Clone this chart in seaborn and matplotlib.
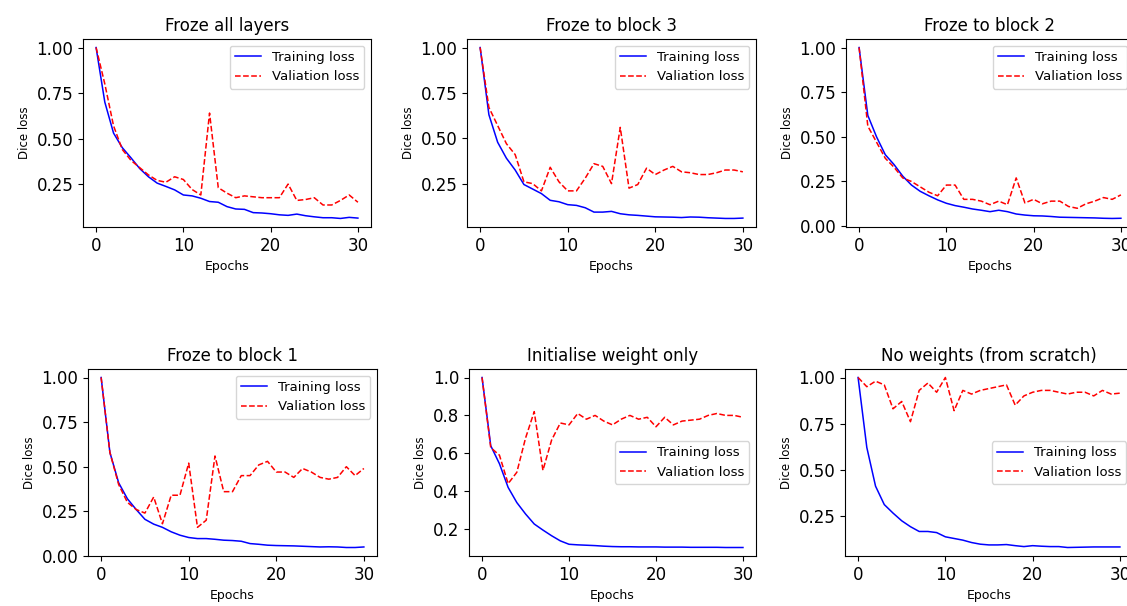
#!/usr/bin/env python3
"""Training / validation Dice loss for six transfer-learning set-ups."""

import numpy as np
import pandas as pd
import matplotlib
matplotlib.use('Agg')
import matplotlib.pyplot as plt
import seaborn as sns

epochs = list(range(31))

titles = ['Froze all layers', 'Froze to block 3', 'Froze to block 2',
          'Froze to block 1', 'Initialise weight only', 'No weights (from scratch)']

# Froze all layers
train_all = [1.0, 0.70, 0.53, 0.45, 0.394, 0.335, 0.29, 0.255, 0.237, 0.218,
             0.19, 0.185, 0.172, 0.154, 0.15, 0.126, 0.113, 0.111, 0.093, 0.091,
             0.087, 0.081, 0.078, 0.085, 0.076, 0.07, 0.065, 0.065, 0.061, 0.067, 0.063]
val_all = [1.0, 0.80, 0.57, 0.44, 0.38, 0.34, 0.30, 0.27, 0.26, 0.29,
           0.275, 0.22, 0.19, 0.64, 0.23, 0.20, 0.175, 0.185, 0.18, 0.175,
           0.175, 0.175, 0.25, 0.16, 0.165, 0.175, 0.135, 0.135, 0.16, 0.19, 0.15]

# Froze to block 3
train_b3 = [1.0, 0.63, 0.478, 0.39, 0.325, 0.245, 0.22, 0.195, 0.158, 0.15,
            0.134, 0.13, 0.117, 0.093, 0.093, 0.097, 0.084, 0.078, 0.075, 0.071,
            0.067, 0.066, 0.065, 0.063, 0.066, 0.065, 0.062, 0.06, 0.058, 0.058, 0.06]
val_b3 = [1.0, 0.67, 0.57, 0.47, 0.41, 0.26, 0.25, 0.21, 0.34, 0.26,
          0.21, 0.21, 0.28, 0.36, 0.345, 0.25, 0.56, 0.225, 0.245, 0.335,
          0.30, 0.325, 0.345, 0.315, 0.31, 0.30, 0.30, 0.31, 0.325, 0.325, 0.315]

# Froze to block 2
train_b2 = [1.0, 0.62, 0.50, 0.40, 0.345, 0.28, 0.23, 0.195, 0.17, 0.147,
            0.128, 0.115, 0.106, 0.096, 0.089, 0.081, 0.089, 0.081, 0.068, 0.062,
            0.058, 0.057, 0.054, 0.05, 0.049, 0.048, 0.047, 0.046, 0.044, 0.043, 0.044]
val_b2 = [1.0, 0.56, 0.47, 0.38, 0.33, 0.27, 0.25, 0.22, 0.19, 0.17,
          0.23, 0.23, 0.15, 0.15, 0.14, 0.12, 0.14, 0.12, 0.27, 0.13,
          0.15, 0.125, 0.14, 0.14, 0.11, 0.10, 0.125, 0.14, 0.16, 0.15, 0.175]

# Froze to block 1
train_b1 = [1.0, 0.58, 0.41, 0.32, 0.26, 0.205, 0.178, 0.16, 0.135, 0.116,
            0.103, 0.097, 0.097, 0.093, 0.088, 0.086, 0.082, 0.069, 0.065, 0.06,
            0.058, 0.057, 0.056, 0.054, 0.052, 0.05, 0.051, 0.05, 0.047, 0.047, 0.05]
val_b1 = [1.0, 0.58, 0.40, 0.30, 0.26, 0.24, 0.33, 0.18, 0.34, 0.34,
          0.52, 0.16, 0.20, 0.56, 0.36, 0.36, 0.45, 0.45, 0.51, 0.53,
          0.47, 0.47, 0.44, 0.49, 0.47, 0.44, 0.43, 0.44, 0.50, 0.45, 0.49]

# Initialise weight only
train_init = [1.0, 0.64, 0.545, 0.42, 0.34, 0.28, 0.227, 0.195, 0.165, 0.138,
              0.12, 0.117, 0.115, 0.113, 0.11, 0.108, 0.107, 0.107, 0.106, 0.106,
              0.106, 0.105, 0.105, 0.105, 0.104, 0.104, 0.104, 0.104, 0.103, 0.103, 0.103]
val_init = [1.0, 0.63, 0.59, 0.44, 0.50, 0.68, 0.82, 0.51, 0.67, 0.76,
            0.75, 0.81, 0.78, 0.80, 0.77, 0.75, 0.78, 0.80, 0.78, 0.79,
            0.74, 0.79, 0.75, 0.77, 0.775, 0.78, 0.80, 0.81, 0.80, 0.80, 0.79]

# No weights (from scratch)
train_none = [1.0, 0.62, 0.41, 0.31, 0.264, 0.222, 0.19, 0.164, 0.164, 0.158,
              0.135, 0.126, 0.117, 0.104, 0.095, 0.091, 0.091, 0.093, 0.087, 0.082,
              0.087, 0.084, 0.082, 0.082, 0.077, 0.078, 0.079, 0.08, 0.08, 0.08, 0.08]
val_none = [1.0, 0.95, 0.98, 0.96, 0.83, 0.87, 0.76, 0.93, 0.97, 0.92,
            1.0, 0.82, 0.93, 0.91, 0.93, 0.94, 0.95, 0.96, 0.85, 0.90,
            0.92, 0.93, 0.93, 0.92, 0.91, 0.92, 0.92, 0.90, 0.93, 0.91, 0.915]

train_sets = [train_all, train_b3, train_b2, train_b1, train_init, train_none]
val_sets = [val_all, val_b3, val_b2, val_b1, val_init, val_none]

W, H = 1127, 606
fig = plt.figure(figsize=(W / 100, H / 100), dpi=100)

# axes rectangles in pixels: left, top, right, bottom
# (right column runs past the edge, as in the cropped original)
boxes = [(83, 39, 371, 227), (467, 39, 756, 227), (846, 39, 1134, 227),
         (88, 369, 377, 556), (469, 369, 756, 556), (845, 369, 1133, 556)]
legend_locs = ['upper right'] * 4 + ['center right'] * 2

for i in range(6):
    l, t, r, b = boxes[i]
    ax = fig.add_axes([l / W, (H - b) / H, (r - l) / W, (b - t) / H])
    df = pd.DataFrame({'epoch': epochs, 'train': train_sets[i], 'val': val_sets[i]})
    sns.lineplot(data=df, x='epoch', y='train', ax=ax, color='blue',
                 linewidth=1.1, label='Training loss')
    sns.lineplot(data=df, x='epoch', y='val', ax=ax, color='red',
                 linestyle='--', linewidth=1.1, label='Valiation loss')
    ax.set_title(titles[i], fontsize=12)
    ax.set_xlabel('Epochs', fontsize=9)
    ax.set_ylabel('Dice loss', fontsize=8.5)
    ax.tick_params(labelsize=12)
    ax.set_xticks([0, 10, 20, 30])
    ax.legend(loc=legend_locs[i], fontsize=9.5)

plt.savefig('out.png', dpi=100)
print("Saved: out.png")
